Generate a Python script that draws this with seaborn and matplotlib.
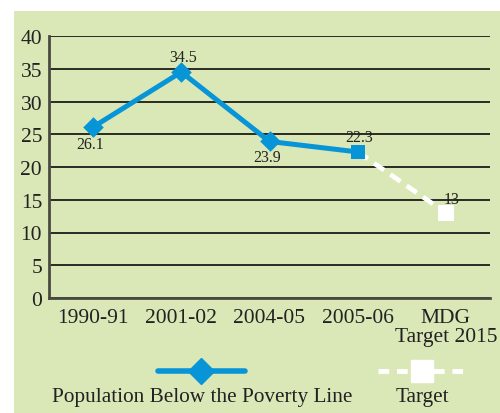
import matplotlib
matplotlib.use("Agg")
import matplotlib.pyplot as plt
import seaborn as sns
import pandas as pd
from matplotlib.lines import Line2D
from matplotlib.patches import Rectangle

# data
periods = ["1990-91", "2001-02", "2004-05", "2005-06", "MDG\nTarget 2015"]
poverty = [26.1, 34.5, 23.9, 22.3]
target_periods = ["2005-06", "MDG\nTarget 2015"]
target = [22.3, 13]

bg = "#d9e8b6"
blue = "#0795d8"
grid_col = "#2a2a24"
spine_col = "#4a4a40"

sns.set_theme(style="white")
plt.rcParams["font.family"] = ["Liberation Serif", "DejaVu Serif"]

fig = plt.figure(figsize=(5, 4.14), dpi=100)
fig.patch.set_facecolor("white")
fig.add_artist(Rectangle((14 / 500, 0), 1, 402 / 414, transform=fig.transFigure,
                         facecolor=bg, edgecolor="none", zorder=-10))

ax = fig.add_axes([49 / 500, 1 - 299 / 414, 441 / 500, 262 / 414])
ax.set_facecolor(bg)

pos = {p: i for i, p in enumerate(periods)}
df = pd.DataFrame({"x": [pos[p] for p in periods[:4]], "y": poverty})
dt = pd.DataFrame({"x": [pos[p] for p in target_periods], "y": target})

sns.lineplot(data=dt, x="x", y="y", ax=ax, color="white", lw=3.4, zorder=3)
ax.lines[-1].set_linestyle((0, (2.6, 1.6)))
ax.scatter(dt["x"].iloc[-1:], dt["y"].iloc[-1:], marker="s", s=120,
           color="white", zorder=4, linewidths=0)

sns.lineplot(data=df, x="x", y="y", ax=ax, color=blue, lw=3.6, zorder=5)
ax.scatter(df["x"].iloc[:3], df["y"].iloc[:3], marker="D", s=110,
           color=blue, zorder=6, linewidths=0)
ax.scatter(df["x"].iloc[3:], df["y"].iloc[3:], marker="s", s=110,
           color=blue, zorder=6, linewidths=0)

# value labels
offsets = [(-2, -12), (1, 11), (-2, -11), (1, 11), (4, 10)]
points = list(zip(df["x"], df["y"])) + [(dt["x"].iloc[-1], dt["y"].iloc[-1])]
for (x, y), off in zip(points, offsets):
    ax.annotate(f"{y:g}", (x, y), xytext=off, textcoords="offset points",
                ha="center", va="center", fontsize=11.5, color="#222222", zorder=7)

ax.set_xlim(-0.5, 4.5)
ax.set_ylim(0, 40)
ax.set_yticks(range(0, 41, 5))
ax.set_xticks([i - 0.5 for i in range(6)])
ax.set_xticklabels([])
ax.set_xticks(range(5), minor=True)
ax.set_xticklabels(periods, minor=True, fontsize=15.5, va="top", linespacing=1.05)
ax.tick_params(axis="x", which="minor", length=0, pad=7)
ax.tick_params(axis="x", which="major", direction="in", length=4, width=2, color=spine_col)
ax.tick_params(axis="y", direction="out", length=4, width=2, color=spine_col,
               labelsize=15.5, pad=1)
for t in ax.get_xticklabels(minor=True) + ax.get_yticklabels():
    t.set_color("#222222")

ax.yaxis.grid(True, color=grid_col, lw=1.4)
ax.set_axisbelow(True)
ax.set_xlabel("")
ax.set_ylabel("")
for s in ["top", "right"]:
    ax.spines[s].set_visible(False)
for s in ["left", "bottom"]:
    ax.spines[s].set_color(spine_col)
    ax.spines[s].set_linewidth(2)

# legend below
ly = 1 - 372 / 414
fig.add_artist(Line2D([158 / 500, 245 / 500], [ly, ly], transform=fig.transFigure,
                      color=blue, lw=4))
fig.add_artist(Line2D([201 / 500], [ly], transform=fig.transFigure, color=blue,
                      marker="D", markersize=13, lw=0))
fig.add_artist(Line2D([378 / 500, 466 / 500], [ly, ly], transform=fig.transFigure,
                      color="white", lw=3.5, linestyle=(0, (2.2, 1.6))))
fig.add_artist(Line2D([422 / 500], [ly], transform=fig.transFigure, color="white",
                      marker="s", markersize=16, lw=0))
fig.text(202 / 500, 1 - 398 / 414, "Population Below the Poverty Line",
         ha="center", va="center", fontsize=15.3, color="#222222")
fig.text(422 / 500, 1 - 398 / 414, "Target", ha="center", va="center",
         fontsize=15.3, color="#222222")

fig.savefig("out.png", dpi=100, facecolor=fig.get_facecolor())
